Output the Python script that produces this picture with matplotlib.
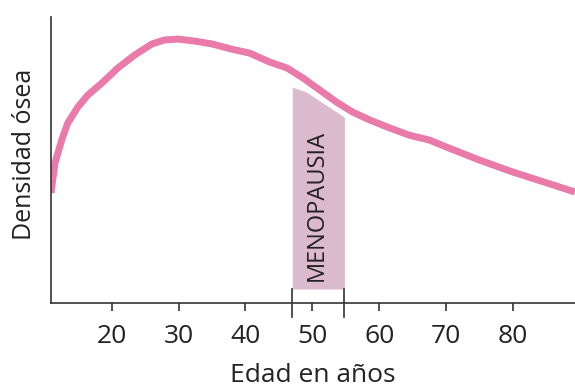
import numpy as np
import matplotlib.pyplot as plt

plt.rcParams['font.family'] = ['Open Sans', 'DejaVu Sans']

# datos
edad = [10.9, 11.5, 12.5, 13.4, 14.9, 16.4, 18.5, 20.9, 23.4, 26.0, 27.9, 29.9,
        32.4, 35.0, 37.9, 40.6, 43.6, 46.2, 48.6, 51.1, 53.6, 56.0, 58.6, 61.6,
        64.5, 67.5, 70.1, 75.0, 80.0, 85.1, 89.3]
densidad = [38.5, 49.0, 57.0, 62.9, 68.5, 72.7, 76.9, 82.2, 86.7, 90.6, 92.0, 92.3,
            91.6, 90.6, 88.8, 87.4, 84.3, 82.2, 78.7, 74.5, 70.3, 66.8, 64.0, 61.2,
            58.7, 57.0, 54.5, 50.0, 45.8, 42.0, 38.8]

meno_x = [47.0, 49.1, 54.8]
meno_top = [75.5, 73.8, 65.0]
meno_base = 4.9
ticks = [20, 30, 40, 50, 60, 70, 80]

fig = plt.figure(figsize=(5.75, 3.88), dpi=100)
ax = fig.add_axes([0.0887, 0.219, 0.9113, 0.737])

ax.fill_between(meno_x, meno_base, meno_top, color='#dcbacd', lw=0)
ax.plot(edad, densidad, color='#ea7aaa', lw=5, solid_capstyle='butt',
        solid_joinstyle='round')

for xv in [meno_x[0], meno_x[-1]]:
    ax.plot([xv, xv], [meno_base, -4.9], color='#333333', lw=1.2, clip_on=False)

ax.text(50.7, 34, 'MENOPAUSIA', rotation=90, ha='center', va='center',
        fontsize=17, color='#222222')

ax.set_xlim(10.9, 89.3)
ax.set_ylim(0, 100)
ax.set_xticks(ticks)
ax.set_yticks([])
ax.spines['top'].set_visible(False)
ax.spines['right'].set_visible(False)
for s in ['left', 'bottom']:
    ax.spines[s].set_linewidth(1.2)
    ax.spines[s].set_color('#333333')
ax.tick_params(axis='x', length=6, width=1.2, color='#333333', labelsize=19,
               labelcolor='#222222', pad=9)

ax.set_xlabel('Edad en años', fontsize=19, color='#222222', labelpad=10)
ax.set_ylabel('Densidad ósea', fontsize=18, color='#222222')
ax.yaxis.set_label_coords(-0.027, 0.52)

fig.savefig('out.png', dpi=100)
